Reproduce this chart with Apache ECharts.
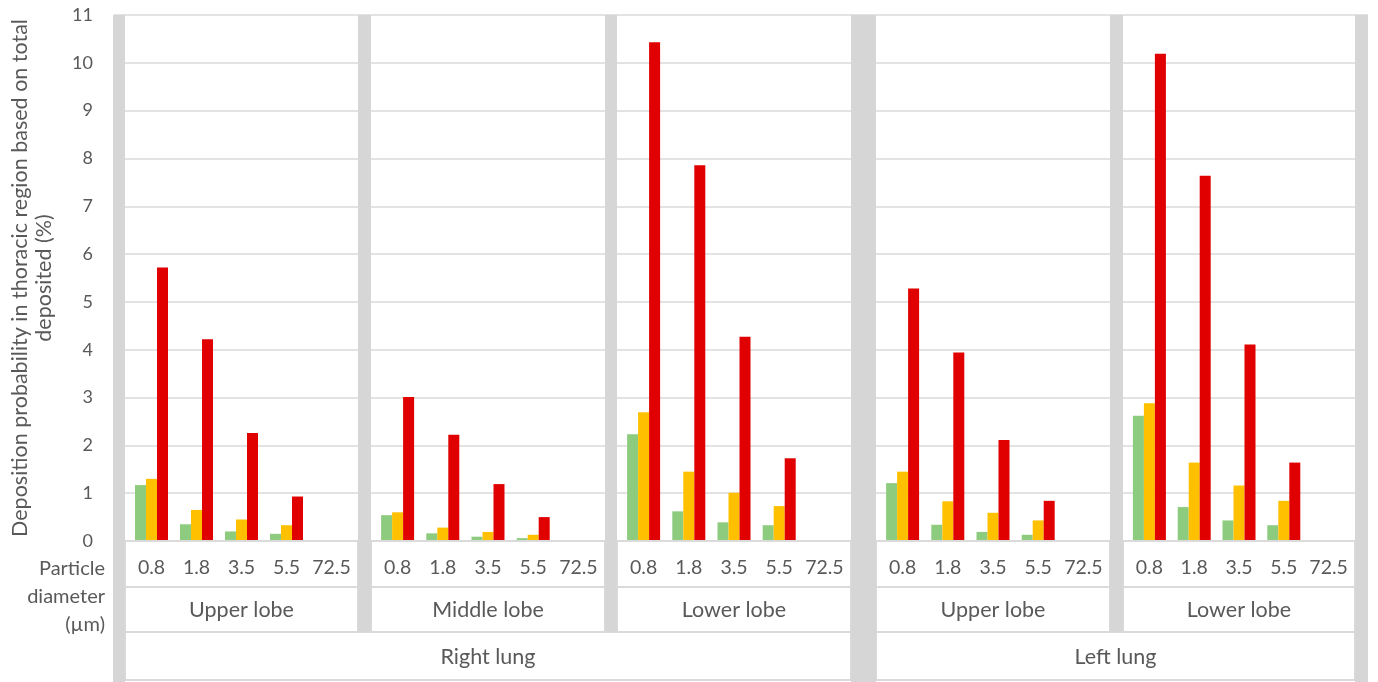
<!DOCTYPE html>
<html>
<head>
<meta charset="utf-8">
<script src="https://cdn.jsdelivr.net/npm/echarts@6/dist/echarts.min.js"></script>
<style>
  html, body { margin: 0; padding: 0; background: #ffffff; }
  #chart { width: 1378px; height: 682px; }
</style>
</head>
<body>
<div id="chart"></div>
<script>
// ---- data ----
const diameters = ['0.8', '1.8', '3.5', '5.5', '72.5'];
const lobes = ['Upper lobe', 'Middle lobe', 'Lower lobe', 'Upper lobe', 'Lower lobe'];
const lungs = ['Right lung', 'Left lung'];
const lobesPerLung = [3, 2];
const yAxisTitle = 'Deposition probability in thoracic region based on total\ndeposited (%)';
const rowTitle = 'Particle\ndiameter\n(\u00b5m)';

// one row per lobe, one value per particle diameter
const greenValues = [
  [1.17, 0.35, 0.20, 0.15, 0],
  [0.54, 0.16, 0.09, 0.06, 0],
  [2.23, 0.62, 0.39, 0.33, 0],
  [1.21, 0.34, 0.19, 0.13, 0],
  [2.62, 0.71, 0.43, 0.33, 0]
];
const yellowValues = [
  [1.30, 0.65, 0.45, 0.33, 0],
  [0.60, 0.28, 0.19, 0.13, 0],
  [2.69, 1.45, 1.01, 0.73, 0],
  [1.45, 0.83, 0.59, 0.43, 0],
  [2.88, 1.64, 1.16, 0.84, 0]
];
const redValues = [
  [5.72, 4.22, 2.26, 0.93, 0],
  [3.01, 2.22, 1.19, 0.50, 0],
  [10.43, 7.86, 4.27, 1.73, 0],
  [5.28, 3.94, 2.11, 0.84, 0],
  [10.19, 7.64, 4.11, 1.64, 0]
];
const yMin = 0, yMax = 11, yStep = 1;

// ---- layout & style ----
const FONT = 'Lato, "Open Sans", sans-serif';
const TEXT = '#595959';
const LINE = '#dadada';
const WALL = '#d6d6d6';
const COLORS = ['#8dcb7f', '#ffc000', '#e00000'];

const PLOT_TOP = 15, PLOT_BOTTOM = 541;
const ROW_CAT = 587, ROW_LOBE = 632, ROW_LUNG = 680, PAGE_H = 682;
// vertical walls: [left, width]; full-height walls also run through the lung row
const walls = [[113, 12], [358, 13], [605, 12], [851, 25], [1110, 13], [1355, 13]];
const fullWalls = [true, false, false, true, false, true];
const INSET = 4;

const grids = [], xAxes = [], yAxes = [], series = [], graphics = [];

// background grid that carries the value axis and its gridlines
grids.push({ left: walls[0][0], right: 1378 - (walls[5][0] + walls[5][1]), top: PLOT_TOP, bottom: PAGE_H - PLOT_BOTTOM });
xAxes.push({ type: 'value', gridIndex: 0, show: false, min: 0, max: 1 });
yAxes.push({
  type: 'value', gridIndex: 0, min: yMin, max: yMax, interval: yStep,
  axisLine: { show: false }, axisTick: { show: false },
  axisLabel: { color: TEXT, fontSize: 18, fontFamily: FONT, margin: 21 },
  splitLine: { lineStyle: { color: LINE, width: 1.5 } },
  name: yAxisTitle, nameLocation: 'middle', nameGap: 58,
  nameTextStyle: { color: TEXT, fontSize: 21.5, fontFamily: FONT, lineHeight: 24 }
});

const panelX = [];
lobes.forEach((lobe, i) => {
  const x0 = walls[i][0] + walls[i][1];
  const x1 = walls[i + 1][0];
  panelX.push([x0, x1]);
  const gi = i + 1;
  grids.push({ left: x0 + INSET, width: x1 - x0 - 2 * INSET, top: PLOT_TOP, bottom: PAGE_H - PLOT_BOTTOM });
  xAxes.push({
    type: 'category', gridIndex: gi, data: diameters, z: 10,
    axisLine: { show: false }, axisTick: { show: false },
    axisLabel: { interval: 0, color: TEXT, fontSize: 19.5, fontFamily: FONT, margin: 17 }
  });
  yAxes.push({ type: 'value', gridIndex: gi, min: yMin, max: yMax, interval: yStep, show: false, splitLine: { show: false } });
  [greenValues, yellowValues, redValues].forEach((vals, k) => {
    series.push({
      type: 'bar', xAxisIndex: gi, yAxisIndex: gi, data: vals[i],
      barWidth: 11, barGap: '0%', z: 3,
      itemStyle: { color: COLORS[k] }
    });
  });

  // category row and lobe row cells
  graphics.push({ type: 'rect', z: 4, shape: { x: x0, y: PLOT_BOTTOM, width: x1 - x0, height: ROW_CAT - PLOT_BOTTOM },
    style: { fill: '#fff', stroke: LINE, lineWidth: 2 } });
  graphics.push({ type: 'rect', z: 4, shape: { x: x0, y: ROW_CAT, width: x1 - x0, height: ROW_LOBE - ROW_CAT },
    style: { fill: '#fff', stroke: LINE, lineWidth: 2 } });
  graphics.push({ type: 'text', z: 6, x: (x0 + x1) / 2, y: (ROW_CAT + ROW_LOBE) / 2 + 1,
    style: { text: lobe, fill: TEXT, font: '21.5px ' + FONT, textAlign: 'center', textVerticalAlign: 'middle' } });
});

// lung row cells
let first = 0;
lungs.forEach((lung, j) => {
  const last = first + lobesPerLung[j] - 1;
  const x0 = panelX[first][0], x1 = panelX[last][1];
  graphics.push({ type: 'rect', z: 4, shape: { x: x0, y: ROW_LOBE, width: x1 - x0, height: ROW_LUNG - ROW_LOBE },
    style: { fill: '#fff', stroke: LINE, lineWidth: 2 } });
  graphics.push({ type: 'text', z: 6, x: (x0 + x1) / 2, y: (ROW_LOBE + ROW_LUNG) / 2 + 1,
    style: { text: lung, fill: TEXT, font: '21.5px ' + FONT, textAlign: 'center', textVerticalAlign: 'middle' } });
  first = last + 1;
});

// walls between panels
walls.forEach((w, i) => {
  graphics.push({ type: 'rect', z: 5, shape: { x: w[0], y: PLOT_TOP, width: w[1], height: (fullWalls[i] ? PAGE_H : ROW_LOBE) - PLOT_TOP },
    style: { fill: WALL } });
});

// row header at the left
graphics.push({ type: 'text', z: 6, x: walls[0][0] - 8, y: 597,
  style: { text: rowTitle, fill: TEXT, font: '20px ' + FONT, textAlign: 'right', textVerticalAlign: 'middle', lineHeight: 28 } });

const chart = echarts.init(document.getElementById('chart'), null, { renderer: 'canvas' });
chart.setOption({
  animation: false,
  backgroundColor: '#ffffff',
  grid: grids,
  xAxis: xAxes,
  yAxis: yAxes,
  series: series,
  graphic: { elements: graphics }
});
</script>
</body>
</html>
